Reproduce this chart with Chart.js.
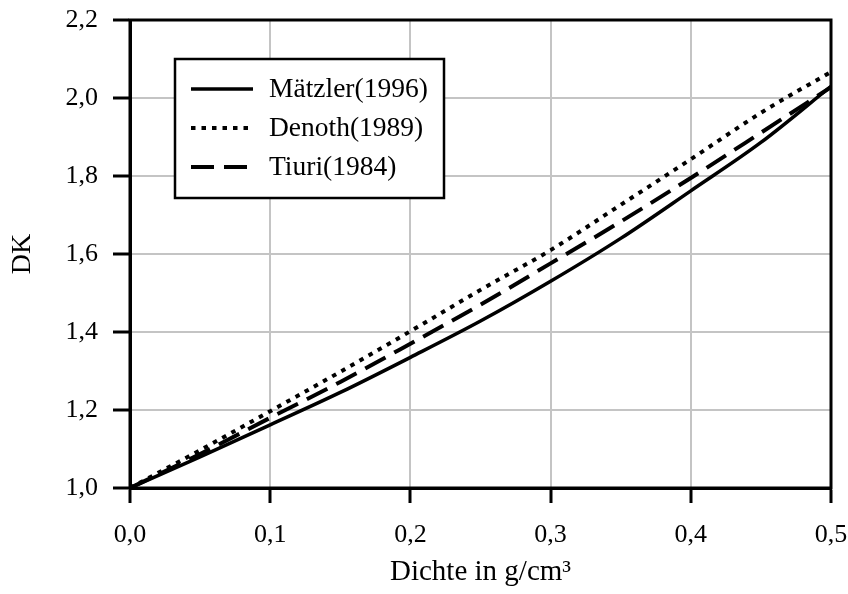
<!DOCTYPE html>
<html>
<head>
    <meta charset="utf-8">
    <script src="https://cdn.jsdelivr.net/npm/chart.js"></script>
    <title>DK</title>
    <style>
        html, body { margin: 0; padding: 0; background: #fff; }
        #wrap { width: 848px; height: 594px; }
    </style>
</head>
<body>
    <div id="wrap"><canvas id="chartDK"></canvas></div>

    <script type="text/javascript">
        // Dichte (g/cm3) und DK-Werte der drei Modelle
        const dichte  = [0, 0.05, 0.1, 0.15, 0.2, 0.25, 0.3, 0.35, 0.4, 0.45, 0.5];
        const maetzler = [1.000, 1.080, 1.162, 1.245, 1.335, 1.428, 1.530, 1.640, 1.762, 1.886, 2.030];
        const denoth   = [1.000, 1.097, 1.197, 1.298, 1.402, 1.508, 1.610, 1.726, 1.843, 1.962, 2.067];
        const tiuri    = [1.000, 1.087, 1.180, 1.272, 1.370, 1.470, 1.576, 1.683, 1.795, 1.911, 2.028];

        const serif = "'Liberation Serif', 'Times New Roman', serif";
        const komma = v => v.toFixed(1).replace('.', ',');
        const punkte = werte => dichte.map((d, i) => ({ x: d, y: werte[i] }));

        // Rahmen oben/rechts um die Zeichenfläche
        const rahmen = {
            id: 'rahmen',
            afterDatasetsDraw(chart) {
                const { ctx, chartArea: a } = chart;
                ctx.save();
                ctx.strokeStyle = '#000';
                ctx.lineWidth = 3;
                ctx.strokeRect(a.left, a.top, a.right - a.left, a.bottom - a.top);
                ctx.restore();
            }
        };

        // Legende mit Kasten innerhalb der Zeichenfläche
        const legende = {
            id: 'legende',
            afterDraw(chart) {
                const { ctx, chartArea: a } = chart;
                const x0 = a.left + 45, y0 = a.top + 39;
                ctx.save();
                ctx.fillStyle = '#fff';
                ctx.fillRect(x0, y0, 269, 139);
                ctx.strokeStyle = '#000';
                ctx.lineWidth = 2.5;
                ctx.strokeRect(x0, y0, 269, 139);
                ctx.font = '27.5px ' + serif;
                ctx.textBaseline = 'middle';
                chart.data.datasets.forEach((ds, i) => {
                    const y = y0 + 30 + i * 39;
                    ctx.beginPath();
                    ctx.setLineDash(ds.borderDash || []);
                    ctx.lineWidth = ds.borderWidth;
                    ctx.moveTo(x0 + 16, y);
                    ctx.lineTo(x0 + 78, y);
                    ctx.stroke();
                    ctx.setLineDash([]);
                    ctx.fillStyle = '#000';
                    ctx.fillText(ds.label, x0 + 94, y + 1);
                });
                ctx.restore();
            }
        };

        const ctx = document.getElementById('chartDK').getContext('2d');
        new Chart(ctx, {
            type: 'line',
            data: {
                datasets: [
                    { label: 'Mätzler(1996)', data: punkte(maetzler), borderColor: '#000', borderWidth: 3.5 },
                    { label: 'Denoth(1989)', data: punkte(denoth), borderColor: '#000', borderWidth: 4, borderDash: [4.5, 6] },
                    { label: 'Tiuri(1984)', data: punkte(tiuri), borderColor: '#000', borderWidth: 4, borderDash: [23, 10] }
                ]
            },
            options: {
                responsive: true,
                maintainAspectRatio: false,
                animation: false,
                layout: { padding: { top: 20, right: 17, left: 0, bottom: 0 } },
                elements: {
                    point: { radius: 0 },
                    line: { cubicInterpolationMode: 'monotone', fill: false }
                },
                plugins: {
                    legend: { display: false },
                    tooltip: { enabled: false }
                },
                scales: {
                    x: {
                        type: 'linear',
                        min: 0,
                        max: 0.5,
                        afterFit: s => { s.height = 106; s.paddingLeft = 0; s.paddingRight = 0; },
                        ticks: { stepSize: 0.1, callback: komma, color: '#000', padding: 17, font: { family: serif, size: 26 } },
                        grid: { color: '#c4c4c4', lineWidth: 2, tickColor: '#000', tickWidth: 3, tickLength: 15 },
                        border: { color: '#000', width: 3 },
                        title: { display: true, text: 'Dichte in g/cm³', color: '#000', padding: { top: 0, bottom: 4 }, font: { family: serif, size: 29 } }
                    },
                    y: {
                        min: 1,
                        max: 2.2,
                        afterFit: s => { s.width = 130; s.paddingTop = 0; s.paddingBottom = 0; },
                        ticks: { stepSize: 0.2, callback: komma, color: '#000', padding: 15, font: { family: serif, size: 26 } },
                        grid: { color: '#c4c4c4', lineWidth: 2, tickColor: '#000', tickWidth: 3, tickLength: 17 },
                        border: { color: '#000', width: 3 },
                        title: { display: true, text: 'DK', color: '#000', padding: { top: 6, bottom: 0 }, font: { family: serif, size: 28 } }
                    }
                }
            },
            plugins: [rahmen, legende]
        });
    </script>
</body>
</html>
